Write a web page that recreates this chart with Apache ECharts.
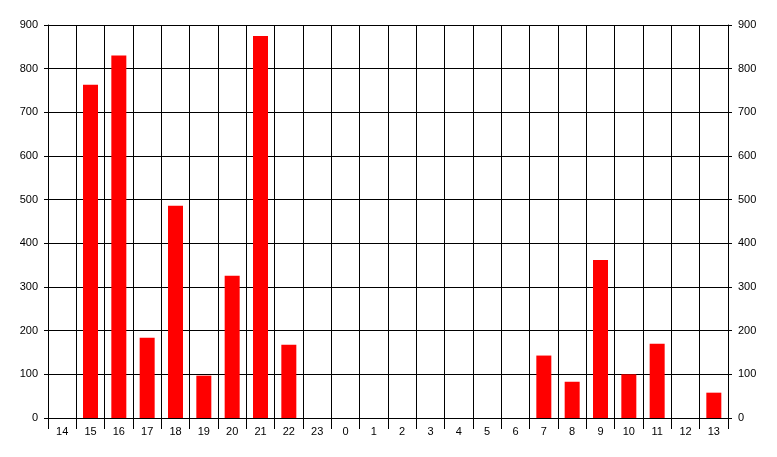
<!DOCTYPE html>
<html>
<head>
<meta charset="utf-8">
<script src="https://cdn.jsdelivr.net/npm/echarts@6/dist/echarts.min.js"></script>
<style>
  html, body { margin: 0; padding: 0; background: #fff; }
  #chart { width: 777px; height: 457px; }
</style>
</head>
<body>
<div id="chart"></div>
<script>
const hours = ["14", "15", "16", "17", "18", "19", "20", "21", "22", "23", "0", "1",
  "2", "3", "4", "5", "6", "7", "8", "9", "10", "11", "12", "13"];
const counts = [0, 763, 830, 184, 486, 97, 326, 875, 168, 0, 0, 0,
  0, 0, 0, 0, 0, 143, 83, 362, 100, 170, 0, 58];

const axisFont = { fontFamily: "Liberation Sans, Arial, sans-serif", fontSize: 11, color: "#000" };
const blackLine = { color: "#000", width: 1 };

const valueAxis = (pos) => ({
  type: "value",
  position: pos,
  min: 0,
  max: 900,
  interval: 100,
  axisLine: { show: true, lineStyle: blackLine },
  axisTick: { show: true, length: 4, lineStyle: blackLine },
  axisLabel: Object.assign({ margin: 10 }, axisFont),
  splitLine: { show: pos === "left", lineStyle: blackLine }
});

const chart = echarts.init(document.getElementById("chart"));
chart.setOption({
  animation: false,
  backgroundColor: "#fff",
  grid: { left: 48, right: 49, top: 25, bottom: 39 },
  xAxis: {
    type: "category",
    data: hours,
    axisLine: { show: true, lineStyle: blackLine },
    axisTick: { show: true, length: 11, lineStyle: blackLine },
    axisLabel: Object.assign({ margin: 8, interval: 0 }, axisFont),
    splitLine: { show: true, interval: 0, lineStyle: blackLine }
  },
  yAxis: [valueAxis("left"), valueAxis("right")],
  series: [{
    type: "bar",
    data: counts,
    barWidth: 15,
    itemStyle: { color: "#ff0000" }
  }]
});
</script>
</body>
</html>
